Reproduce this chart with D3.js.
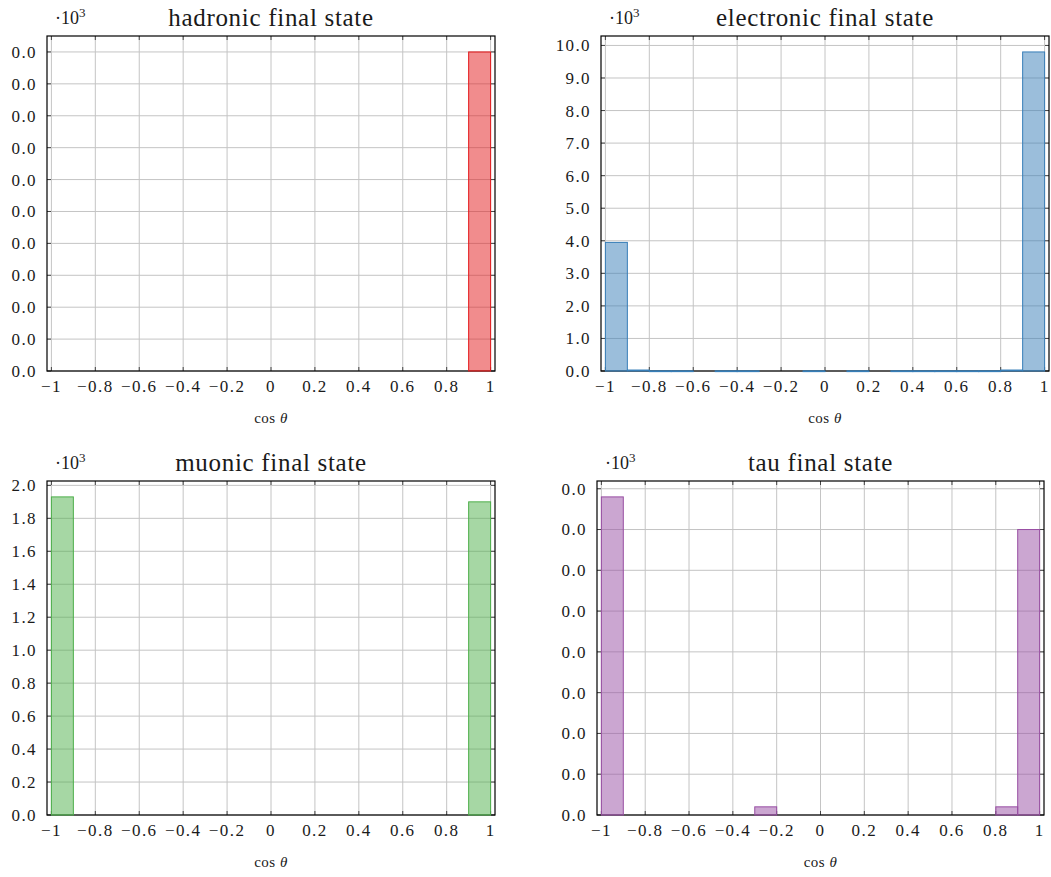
<!DOCTYPE html>
<html><head><meta charset="utf-8">
<script src="https://cdn.jsdelivr.net/npm/d3@7"></script>
<style>
body{margin:0;background:#fff}
svg{display:block}
text{font-family:"Liberation Serif","DejaVu Serif",serif;fill:#1a1a1a}
</style>
</head><body>
<svg id="c" width="1051" height="877"></svg>
<script>
// ---------- data ----------
const binEdges = [-1,-0.9,-0.8,-0.7,-0.6,-0.5,-0.4,-0.3,-0.2,-0.1,0,0.1,0.2,0.3,0.4,0.5,0.6,0.7,0.8,0.9,1];
const xTicks = [-1,-0.8,-0.6,-0.4,-0.2,0,0.2,0.4,0.6,0.8,1];
const xTickLabels = ["\u22121","\u22120.8","\u22120.6","\u22120.4","\u22120.2","0","0.2","0.4","0.6","0.8","1"];
const panelTitles = ["hadronic final state","electronic final state","muonic final state","tau final state"];

const hadronicCounts   = [0,0,0,0,0,0,0,0,0,0,0,0,0,0,0,0,0,0,0,10];
const electronicCounts = [3950,30,5,5,0,5,5,0,0,5,0,5,0,5,5,5,5,5,30,9800];
const muonicCounts     = [1930,0,0,0,0,0,0,0,0,0,0,0,0,0,0,0,0,0,0,1900];
const tauCounts        = [39,0,0,0,0,0,0,1,0,0,0,0,0,0,0,0,0,0,1,35];

const hadronicYTicks   = [0,1,2,3,4,5,6,7,8,9,10];
const hadronicYLabels  = ["0.0","0.0","0.0","0.0","0.0","0.0","0.0","0.0","0.0","0.0","0.0"];
const electronicYTicks = [0,1000,2000,3000,4000,5000,6000,7000,8000,9000,10000];
const electronicYLabels= ["0.0","1.0","2.0","3.0","4.0","5.0","6.0","7.0","8.0","9.0","10.0"];
const muonicYTicks     = [0,200,400,600,800,1000,1200,1400,1600,1800,2000];
const muonicYLabels    = ["0.0","0.2","0.4","0.6","0.8","1.0","1.2","1.4","1.6","1.8","2.0"];
const tauYTicks        = [0,5,10,15,20,25,30,35,40];
const tauYLabels       = ["0.0","0.0","0.0","0.0","0.0","0.0","0.0","0.0","0.0"];

const seriesColors = ["#e41a1c","#377eb8","#4daf4a","#984ea3"];

// ---------- layout ----------
const panels = [
  {title:panelTitles[0], counts:hadronicCounts,   yt:hadronicYTicks,   yl:hadronicYLabels,   color:seriesColors[0], L:47,  R:495,  T:36,  B:371},
  {title:panelTitles[1], counts:electronicCounts, yt:electronicYTicks, yl:electronicYLabels, color:seriesColors[1], L:601, R:1049, T:36,  B:371},
  {title:panelTitles[2], counts:muonicCounts,     yt:muonicYTicks,     yl:muonicYLabels,     color:seriesColors[2], L:47,  R:495,  T:481, B:815},
  {title:panelTitles[3], counts:tauCounts,        yt:tauYTicks,        yl:tauYLabels,        color:seriesColors[3], L:597, R:1044, T:481, B:815}
];

const svg = d3.select("#c");

panels.forEach(p => {
  const g = svg.append("g");
  const x = d3.scaleLinear().domain([-1.02, 1.02]).range([p.L, p.R]);
  const ymax = d3.max(p.counts) * 1.05;
  const y = d3.scaleLinear().domain([0, ymax]).range([p.B, p.T]);

  // grid
  g.append("g").selectAll("line").data(xTicks).join("line")
    .attr("x1", d => x(d)).attr("x2", d => x(d)).attr("y1", p.T).attr("y2", p.B)
    .attr("stroke", "#c4c4c4").attr("stroke-width", 1);
  g.append("g").selectAll("line").data(p.yt).join("line")
    .attr("x1", p.L).attr("x2", p.R).attr("y1", d => y(d)).attr("y2", d => y(d))
    .attr("stroke", "#c4c4c4").attr("stroke-width", 1);

  // ticks (inward, all four sides)
  const tk = g.append("g").attr("stroke", "#444").attr("stroke-width", 1);
  xTicks.forEach(d => {
    tk.append("line").attr("x1", x(d)).attr("x2", x(d)).attr("y1", p.B).attr("y2", p.B - 4);
    tk.append("line").attr("x1", x(d)).attr("x2", x(d)).attr("y1", p.T).attr("y2", p.T + 4);
  });
  p.yt.forEach(d => {
    tk.append("line").attr("x1", p.L).attr("x2", p.L + 4).attr("y1", y(d)).attr("y2", y(d));
    tk.append("line").attr("x1", p.R).attr("x2", p.R - 4).attr("y1", y(d)).attr("y2", y(d));
  });

  // axis box
  g.append("rect").attr("x", p.L).attr("y", p.T).attr("width", p.R - p.L).attr("height", p.B - p.T)
    .attr("fill", "none").attr("stroke", "#000").attr("stroke-width", 1.2);

  // bars
  const bins = p.counts.map((v, i) => ({x0: binEdges[i], x1: binEdges[i + 1], v}));
  g.append("g").selectAll("rect").data(bins.filter(b => b.v > 0)).join("rect")
    .attr("x", d => x(d.x0)).attr("width", d => x(d.x1) - x(d.x0))
    .attr("y", d => y(d.v)).attr("height", d => Math.max(0.8, y(0) - y(d.v)))
    .attr("fill", p.color).attr("fill-opacity", 0.5)
    .attr("stroke", p.color).attr("stroke-width", 1);

  // y tick labels
  g.append("g").selectAll("text").data(p.yt).join("text")
    .attr("x", p.L - 10).attr("y", d => y(d)).attr("dy", "0.35em")
    .attr("text-anchor", "end").attr("font-size", 17).attr("letter-spacing", 1.4)
    .text((d, i) => p.yl[i]);

  // x tick labels
  g.append("g").selectAll("text").data(xTicks).join("text")
    .attr("x", d => x(d)).attr("y", p.B + 21)
    .attr("text-anchor", "middle").attr("font-size", 17).attr("letter-spacing", 1.4)
    .text((d, i) => xTickLabels[i]);

  // scale marker
  const m = g.append("text").attr("x", p.L + 8).attr("y", p.T - 12).attr("font-size", 18);
  m.append("tspan").text("\u00b710");
  m.append("tspan").attr("font-size", 13).attr("dy", -7).text("3");

  // title
  g.append("text").attr("x", (p.L + p.R) / 2).attr("y", p.T - 10)
    .attr("text-anchor", "middle").attr("font-size", 25).attr("letter-spacing", 0.7)
    .text(p.title);

  // x label
  const xl = g.append("text").attr("x", (p.L + p.R) / 2).attr("y", p.B + 52)
    .attr("text-anchor", "middle").attr("font-size", 15).attr("letter-spacing", 0.5);
  xl.append("tspan").text("cos ");
  xl.append("tspan").attr("font-style", "italic").text("\u03b8");
});
</script>
</body></html>
